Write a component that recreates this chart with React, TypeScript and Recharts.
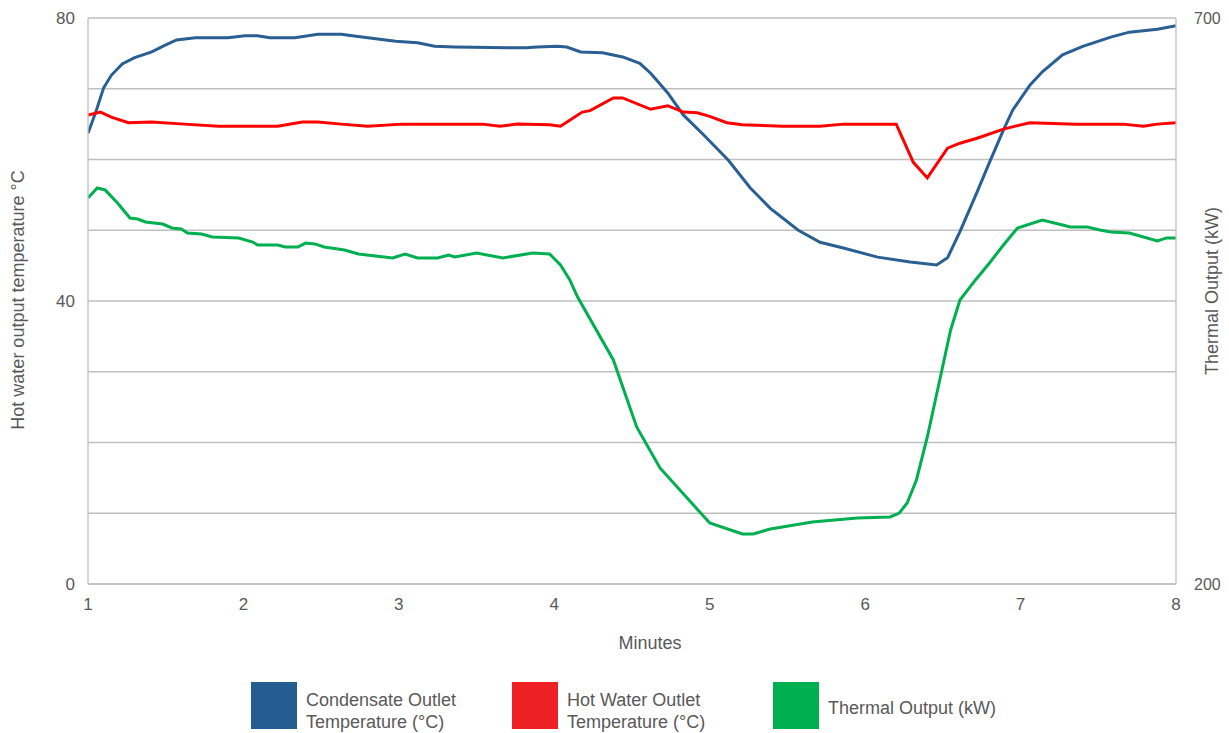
import React from "react";
import { LineChart, Line, XAxis, YAxis, CartesianGrid, Legend } from "recharts";

const condensateMinutes = [1.00,1.05,1.10,1.15,1.22,1.30,1.41,1.50,1.57,1.69,1.90,2.01,2.09,2.17,2.33,2.48,2.63,2.70,2.80,2.98,3.12,3.23,3.36,3.70,3.82,3.89,4.02,4.08,4.17,4.31,4.44,4.55,4.62,4.73,4.83,4.96,5.12,5.26,5.39,5.57,5.71,5.86,6.08,6.29,6.46,6.53,6.61,6.72,6.80,6.89,6.95,7.06,7.14,7.27,7.40,7.58,7.70,7.88,8.00];
const condensateTemps = [63.7,66.7,70.1,71.9,73.5,74.4,75.2,76.2,76.9,77.2,77.2,77.5,77.5,77.2,77.2,77.7,77.7,77.5,77.2,76.7,76.5,76.0,75.9,75.8,75.8,75.9,76.0,75.9,75.2,75.1,74.5,73.6,72.2,69.4,66.3,63.5,59.9,56.0,53.1,50.0,48.3,47.5,46.2,45.5,45.1,46.1,49.8,55.4,59.6,64.2,67.0,70.5,72.4,74.8,76.0,77.3,78.0,78.4,78.9];

const hotWaterMinutes = [1.00,1.08,1.15,1.26,1.41,1.62,1.84,2.06,2.22,2.38,2.48,2.63,2.80,3.02,3.36,3.54,3.65,3.76,3.97,4.04,4.18,4.23,4.38,4.44,4.62,4.73,4.83,4.92,5.00,5.11,5.21,5.47,5.71,5.86,6.20,6.31,6.40,6.53,6.61,6.72,6.89,7.06,7.36,7.66,7.79,7.88,8.00];
const hotWaterTemps = [66.3,66.7,66.0,65.2,65.3,65.0,64.7,64.7,64.7,65.3,65.3,65.0,64.7,65.0,65.0,65.0,64.7,65.0,64.9,64.7,66.7,66.9,68.7,68.7,67.1,67.6,66.7,66.6,66.1,65.2,64.9,64.7,64.7,65.0,65.0,59.6,57.4,61.6,62.3,63.0,64.3,65.2,65.0,65.0,64.7,65.0,65.2];

const thermalMinutes = [1.00,1.06,1.11,1.19,1.27,1.32,1.37,1.48,1.54,1.60,1.64,1.73,1.80,1.97,2.06,2.09,2.22,2.27,2.35,2.40,2.46,2.52,2.65,2.74,2.85,2.96,3.04,3.12,3.25,3.32,3.36,3.50,3.67,3.86,3.97,4.04,4.10,4.15,4.38,4.53,4.68,5.00,5.21,5.28,5.39,5.66,5.95,6.16,6.22,6.27,6.33,6.40,6.48,6.55,6.61,6.71,6.80,6.89,6.98,7.14,7.27,7.32,7.43,7.51,7.58,7.70,7.88,7.94,8.00];
const thermalKw = [541.0,549.8,548.1,536.6,523.3,522.4,519.8,518.0,514.5,513.6,510.1,509.2,506.5,505.7,502.1,499.5,499.5,497.7,497.7,501.2,500.4,497.7,495.1,491.5,489.8,488.0,491.5,488.0,488.0,490.6,488.9,492.4,488.0,492.4,491.5,481.8,468.6,453.5,397.9,338.7,302.5,253.9,244.2,244.2,248.6,254.8,258.3,259.2,262.7,271.6,291.9,329.9,380.2,424.4,450.9,468.6,483.6,499.5,514.5,521.6,517.1,515.4,515.4,512.7,511.0,510.1,503.0,505.7,505.7];

const minuteTicks = [1, 2, 3, 4, 5, 6, 7, 8];
const tempGridTicks = [0, 10, 20, 30, 40, 50, 60, 70, 80];
const tempLabelTicks = [0, 40, 80];
const kwTicks = [200, 700];

const seriesNames = ["Condensate Outlet Temperature (°C)", "Hot Water Outlet Temperature (°C)", "Thermal Output (kW)"];
const legendLines = [["Condensate Outlet", "Temperature (°C)"], ["Hot Water Outlet", "Temperature (°C)"], ["Thermal Output (kW)"]];
const lineColors = ["#2A5F93", "#FF0000", "#00B050"];
const legendColors = ["#245E91", "#ED2024", "#00AF50"];

const toRows = (xs: number[], ys: number[]) => xs.map((m, i) => ({ minute: m, value: ys[i] }));
const condensateData = toRows(condensateMinutes, condensateTemps);
const hotWaterData = toRows(hotWaterMinutes, hotWaterTemps);
const thermalData = toRows(thermalMinutes, thermalKw);

const TEXT = "#595959";
const GRID = "#BFBFBF";
const FONT = "'Liberation Sans', Arial, sans-serif";

const LeftTick = (props: any) => {
  const { x, y, payload } = props;
  if (!tempLabelTicks.includes(payload.value)) return <g />;
  return (
    <text x={x} y={y} textAnchor="end" dominantBaseline="central" fill={TEXT} fontSize={17}>
      {payload.value}
    </text>
  );
};

const LeftTitle = (props: any) => {
  const vb = props.viewBox || {};
  const cx = 10;
  const cy = vb.y + vb.height / 2 - 1;
  return (
    <text x={cx} y={cy} transform={`rotate(-90, ${cx}, ${cy})`} textAnchor="middle" dominantBaseline="central" fill={TEXT} fontSize={18}>
      Hot water output temperature °C
    </text>
  );
};

const RightTitle = (props: any) => {
  const vb = props.viewBox || {};
  const cx = 1204;
  const cy = vb.y + vb.height / 2 - 10;
  return (
    <text x={cx} y={cy} transform={`rotate(-90, ${cx}, ${cy})`} textAnchor="middle" dominantBaseline="central" fill={TEXT} fontSize={18}>
      Thermal Output (kW)
    </text>
  );
};

const BottomTitle = (props: any) => {
  const vb = props.viewBox || {};
  const cx = vb.x + vb.width / 2 + 18;
  return (
    <text x={cx} y={641} textAnchor="middle" fill={TEXT} fontSize={18}>
      Minutes
    </text>
  );
};

const LegendContent = () => (
  <div style={{ display: "flex", height: 52, fontFamily: FONT }}>
    {legendLines.map((lines, i) => (
      <div key={seriesNames[i]} style={{ display: "flex", alignItems: "flex-start", width: 261, height: 52 }}>
        <div style={{ width: 46, height: 47, background: legendColors[i], flexShrink: 0 }} />
        <div style={{ marginLeft: 9, marginTop: lines.length > 1 ? 7 : 15, fontSize: 18, lineHeight: "22px", color: TEXT }}>
          {lines.map((l) => (
            <div key={l}>{l}</div>
          ))}
        </div>
      </div>
    ))}
  </div>
);

export default function App() {
  return (
    <div style={{ position: "absolute", left: 8, top: 8, width: 1221, height: 725, fontFamily: FONT, background: "#fff" }}>
      <LineChart width={1221} height={725} margin={{ top: 10, right: 0, left: 0, bottom: 27 }}>
        <CartesianGrid vertical={false} stroke={GRID} strokeWidth={1.3} yAxisId="left" />
        <XAxis
          dataKey="minute"
          type="number"
          domain={[1, 8]}
          ticks={minuteTicks}
          allowDataOverflow
          height={70}
          tickSize={0}
          tickMargin={14}
          axisLine={{ stroke: GRID, strokeWidth: 1.3 }}
          tickLine={false}
          tick={{ fill: TEXT, fontSize: 17 }}
          label={<BottomTitle />}
        />
        <YAxis
          yAxisId="left"
          domain={[0, 80]}
          ticks={tempGridTicks}
          allowDataOverflow
          width={80}
          tickSize={0}
          tickMargin={13}
          axisLine={{ stroke: GRID, strokeWidth: 1.3 }}
          tickLine={false}
          tick={<LeftTick />}
          label={<LeftTitle />}
        />
        <YAxis
          yAxisId="right"
          orientation="right"
          domain={[200, 700]}
          ticks={kwTicks}
          allowDataOverflow
          width={53}
          tickSize={0}
          tickMargin={18}
          axisLine={{ stroke: GRID, strokeWidth: 1.3 }}
          tickLine={false}
          tick={{ fill: TEXT, fontSize: 16 }}
          label={<RightTitle />}
        />
        <Legend
          verticalAlign="bottom"
          content={<LegendContent />}
          wrapperStyle={{ left: 243, top: 674, width: 800, height: 52 }}
        />
        <Line yAxisId="left" data={condensateData} dataKey="value" name={seriesNames[0]} stroke={lineColors[0]} strokeWidth={3} dot={false} type="linear" isAnimationActive={false} />
        <Line yAxisId="left" data={hotWaterData} dataKey="value" name={seriesNames[1]} stroke={lineColors[1]} strokeWidth={3} dot={false} type="linear" isAnimationActive={false} />
        <Line yAxisId="right" data={thermalData} dataKey="value" name={seriesNames[2]} stroke={lineColors[2]} strokeWidth={3} dot={false} type="linear" isAnimationActive={false} />
      </LineChart>
    </div>
  );
}
